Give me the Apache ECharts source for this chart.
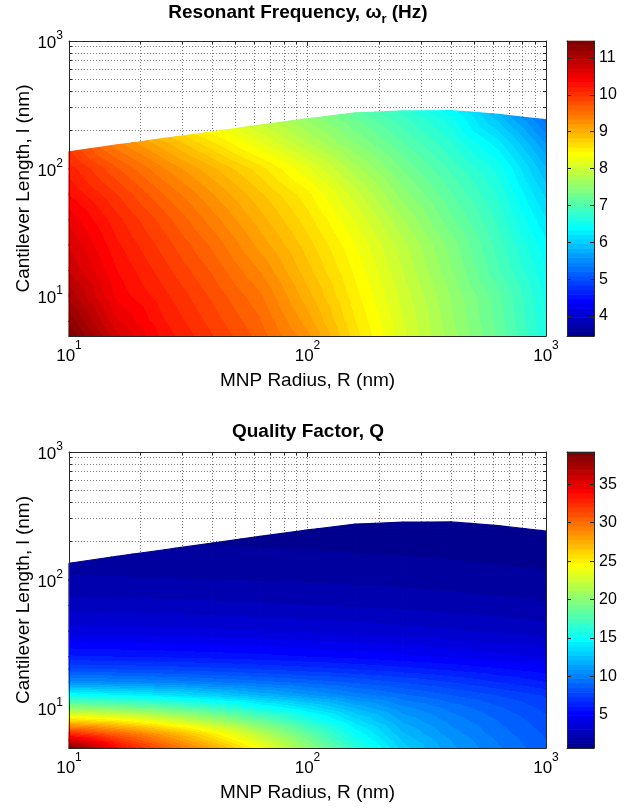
<!DOCTYPE html>
<html><head><meta charset="utf-8">
<script src="https://cdn.jsdelivr.net/npm/echarts@6/dist/echarts.min.js"></script>
<style>html,body{margin:0;padding:0;background:#fff}#c{width:639px;height:808px}</style>
</head><body><div id="c"></div>
<script>
// ---------------- data ----------------
const radiusNodes = [10, 15.85, 25.12, 39.81, 63.1, 100, 158.5, 251.2, 398.1, 631, 1000];
// upper edge of the computed region (cantilever length, nm) at each radius node
const boundaryLength = [135, 153, 172, 194, 219, 246, 273, 283, 284, 266, 241];

const lengthNodesFreq = [4.85, 6.31, 10, 15.85, 25.12, 39.81, 63.1, 100, 158.5, 251.2, 316.2];
const freqValues = [
  [11.46, 10.75, 10.28, 9.97, 9.66, 9.25, 8.64, 8.13, 7.65, 7.19, 6.6],
  [11.3, 10.61, 10.22, 9.91, 9.6, 9.15, 8.59, 8.1, 7.62, 7.16, 6.59],
  [11.05, 10.43, 10.12, 9.81, 9.49, 9.01, 8.51, 8.04, 7.58, 7.13, 6.55],
  [10.83, 10.34, 10.01, 9.69, 9.33, 8.88, 8.43, 7.96, 7.49, 6.98, 6.47],
  [10.7, 10.24, 9.9, 9.56, 9.17, 8.77, 8.34, 7.88, 7.41, 6.9, 6.38],
  [10.55, 10.13, 9.77, 9.4, 9.02, 8.64, 8.2, 7.72, 7.25, 6.8, 6.22],
  [10.33, 9.96, 9.58, 9.22, 8.86, 8.5, 8.02, 7.52, 7.1, 6.68, 6.05],
  [10.15, 9.73, 9.34, 8.99, 8.64, 8.23, 7.76, 7.32, 6.93, 6.54, 5.85],
  [9.9, 9.37, 8.99, 8.61, 8.23, 7.84, 7.46, 7.09, 6.72, 6.26, 5.58],
  [9.45, 8.95, 8.5, 8.17, 7.86, 7.54, 7.2, 6.86, 6.51, 5.9, 5.25],
  [9.3, 8.75, 8.3, 8.0, 7.7, 7.4, 7.05, 6.7, 6.3, 5.7, 5.1]
];

const lengthNodesQ = [4.85, 5.62, 6.31, 7.94, 10, 12.59, 15.85, 19.95, 25.12, 39.81, 63.1, 100, 158.5, 251.2, 316.2];
const qValues = [
  [39.0, 34.0, 30.8, 27.8, 24.2, 20.3, 16.4, 13.0, 11.1, 9.8, 8.6],
  [35.6, 32.2, 29.2, 26.2, 22.9, 19.3, 15.6, 12.6, 10.9, 9.6, 8.5],
  [32.5, 30.3, 27.8, 25.0, 21.8, 18.4, 15.0, 12.2, 10.6, 9.4, 8.4],
  [26.0, 25.0, 23.3, 21.2, 18.8, 16.2, 13.6, 11.4, 10.1, 9.1, 8.1],
  [20.3, 19.6, 18.6, 17.2, 15.4, 13.8, 12.0, 10.5, 9.5, 8.6, 7.7],
  [15.1, 14.6, 13.9, 13.0, 12.0, 11.0, 10.0, 9.2, 8.5, 7.85, 7.2],
  [10.6, 10.4, 10.1, 9.75, 9.35, 8.9, 8.4, 7.85, 7.3, 6.7, 6.1],
  [8.0, 7.9, 7.75, 7.55, 7.3, 7.0, 6.7, 6.35, 6.0, 5.6, 5.2],
  [6.2, 6.1, 6.0, 5.85, 5.7, 5.5, 5.3, 5.05, 4.8, 4.5, 4.2],
  [4.0, 3.95, 3.9, 3.82, 3.72, 3.6, 3.48, 3.33, 3.17, 3.0, 2.8],
  [2.75, 2.72, 2.68, 2.63, 2.57, 2.5, 2.42, 2.33, 2.22, 2.1, 1.95],
  [1.98, 1.96, 1.93, 1.9, 1.86, 1.81, 1.76, 1.7, 1.62, 1.52, 1.42],
  [1.45, 1.44, 1.42, 1.4, 1.37, 1.34, 1.3, 1.26, 1.2, 1.12, 1.05],
  [1.1, 1.09, 1.08, 1.06, 1.04, 1.01, 0.98, 0.95, 0.9, 0.84, 0.78],
  [0.98, 0.97, 0.96, 0.94, 0.92, 0.9, 0.87, 0.84, 0.8, 0.75, 0.7]
];

const freqLimits = [3.46, 11.46];
const qLimits = [0.68, 39.2];
const freqTicks = [4, 5, 6, 7, 8, 9, 10, 11];
const qTicks = [5, 10, 15, 20, 25, 30, 35];
const radiusGridTicks = [10, 20, 30, 40, 50, 60, 70, 80, 90, 100, 200, 300, 400, 500, 600, 700, 800, 900, 1000];
const lengthGridTicks = [5, 6, 7, 8, 9, 10, 20, 30, 40, 50, 60, 70, 80, 90, 100, 200, 300, 400, 500, 600, 700, 800, 900, 1000];

// ---------------- styling helpers ----------------
const FONT = '"Liberation Sans", Arial, Helvetica, sans-serif';
const AXIS_COLOR = '#262626';

function jetColormap(m) {
  const n = Math.ceil(m / 4);
  const u = [];
  for (let i = 1; i <= n; i++) u.push(i / n);
  for (let i = 0; i < n - 1; i++) u.push(1);
  for (let i = n; i >= 1; i--) u.push(i / n);
  const r = new Array(m).fill(0), g = new Array(m).fill(0), b = new Array(m).fill(0);
  const off = Math.ceil(n / 2) - (m % 4 === 1 ? 1 : 0);
  for (let k = 1; k <= u.length; k++) {
    const gi = off + k, ri = gi + n, bi = gi - n;
    if (gi >= 1 && gi <= m) g[gi - 1] = u[k - 1];
    if (ri >= 1 && ri <= m) r[ri - 1] = u[k - 1];
    if (bi >= 1 && bi <= m) b[bi - 1] = u[k - 1];
  }
  const out = [];
  for (let i = 0; i < m; i++) out.push('rgb(' + Math.round(r[i] * 255) + ',' + Math.round(g[i] * 255) + ',' + Math.round(b[i] * 255) + ')');
  return out;
}
const JET = jetColormap(64);
const NB = JET.length;

function binOf(v, lim) {
  let k = Math.floor((v - lim[0]) / (lim[1] - lim[0]) * NB);
  return Math.max(0, Math.min(NB - 1, k));
}
function bandStops(vA, vB, lim) {
  const span = lim[1] - lim[0];
  const kA = binOf(vA, lim), kB = binOf(vB, lim);
  const stops = [{ offset: 0, color: JET[kA] }];
  for (let k = kA + 1; k <= kB; k++) {
    const L = lim[0] + k * span / NB;
    const o = Math.max(0, Math.min(1, (L - vA) / (vB - vA)));
    stops.push({ offset: o, color: JET[k - 1] }, { offset: o, color: JET[k] });
  }
  stops.push({ offset: 1, color: JET[kB] });
  return stops;
}
function clipPoly(pts, f) {
  const out = [];
  for (let k = 0; k < pts.length; k++) {
    const a = pts[k], b = pts[(k + 1) % pts.length];
    const fa = f(a), fb = f(b);
    if (fa >= 0) out.push(a);
    if ((fa >= 0) !== (fb >= 0)) {
      const t = fa / (fa - fb);
      out.push([a[0] + t * (b[0] - a[0]), a[1] + t * (b[1] - a[1])]);
    }
  }
  return out;
}
function triangleEl(tri, f, lim) {
  const P0 = tri[0][0], P1 = tri[1][0], P2 = tri[2][0];
  const v0 = tri[0][1], v1 = tri[1][1], v2 = tri[2][1];
  const e1x = P1[0] - P0[0], e1y = P1[1] - P0[1], e2x = P2[0] - P0[0], e2y = P2[1] - P0[1];
  const det = e1x * e2y - e1y * e2x;
  if (Math.abs(det) < 1e-9) return null;
  const d1 = v1 - v0, d2 = v2 - v0;
  const gx = (d1 * e2y - d2 * e1y) / det, gy = (e1x * d2 - e2x * d1) / det;
  const poly = clipPoly([P0, P1, P2], f);
  if (poly.length < 3) return null;
  const m = Math.hypot(gx, gy);
  let fill;
  if (m < 1e-12) {
    fill = JET[binOf(v0, lim)];
  } else {
    const ux = gx / m, uy = gy / m;
    let tmin = Infinity, tmax = -Infinity;
    poly.forEach(p => { const t = (p[0] - P0[0]) * ux + (p[1] - P0[1]) * uy; tmin = Math.min(tmin, t); tmax = Math.max(tmax, t); });
    tmin -= 2; tmax += 2;
    const A = [P0[0] + ux * tmin, P0[1] + uy * tmin], B = [P0[0] + ux * tmax, P0[1] + uy * tmax];
    const vA = v0 + m * tmin, vB = v0 + m * tmax;
    fill = new echarts.graphic.LinearGradient(A[0], A[1], B[0], B[1], bandStops(vA, vB, lim), true);
  }
  return { type: 'polygon', shape: { points: poly }, style: { fill: fill, stroke: fill, lineWidth: 1.2, lineJoin: 'round' } };
}
function makeFieldRender(values, lengths, lim) {
  return function (params, api) {
    const i = api.value(2), j = api.value(3);
    const x0 = radiusNodes[i], x1 = radiusNodes[i + 1], y0 = lengths[j], y1 = lengths[j + 1];
    const p00 = api.coord([x0, y0]), p10 = api.coord([x1, y0]), p01 = api.coord([x0, y1]), p11 = api.coord([x1, y1]);
    const v00 = values[j][i], v10 = values[j][i + 1], v01 = values[j + 1][i], v11 = values[j + 1][i + 1];
    const b0 = api.coord([x0, boundaryLength[i]]), b1 = api.coord([x1, boundaryLength[i + 1]]);
    const f = p => p[1] - (b0[1] + (p[0] - b0[0]) * (b1[1] - b0[1]) / (b1[0] - b0[0]));
    const children = [];
    const t1 = triangleEl([[p00, v00], [p10, v10], [p11, v11]], f, lim);
    const t2 = triangleEl([[p00, v00], [p11, v11], [p01, v01]], f, lim);
    if (t1) children.push(t1);
    if (t2) children.push(t2);
    return { type: 'group', children: children };
  };
}
function cellData(lengths) {
  const d = [];
  for (let j = 0; j < lengths.length - 1; j++)
    for (let i = 0; i < radiusNodes.length - 1; i++) d.push([radiusNodes[i], lengths[j], i, j]);
  return d;
}
const gridData = radiusGridTicks.map(v => [v, 100, 0]).concat(lengthGridTicks.map(v => [100, v, 1]));
function isMajor(v) { const l = Math.log10(v); return Math.abs(l - Math.round(l)) < 1e-9; }
function gridRender(params, api) {
  const cs = params.coordSys;
  const flag = api.value(2);
  const children = [];
  const dotted = { stroke: '#808080', lineWidth: 1, lineDash: [1, 2] };
  const tick = { stroke: AXIS_COLOR, lineWidth: 1 };
  if (flag === 0) {
    const v = api.value(0);
    const len = isMajor(v) ? 5 : 3;
    const x = Math.floor(api.coord([v, 100])[0]) + 0.5;
    const top = cs.y, bot = cs.y + cs.height;
    if (x > cs.x + 1.5 && x < cs.x + cs.width - 1.5) {
      children.push({ type: 'line', shape: { x1: x, y1: top, x2: x, y2: bot }, style: dotted });
      children.push({ type: 'line', shape: { x1: x, y1: bot, x2: x, y2: bot - len }, style: tick });
      children.push({ type: 'line', shape: { x1: x, y1: top, x2: x, y2: top + len }, style: tick });
    }
  } else {
    const v = api.value(1);
    const len = isMajor(v) ? 5 : 3;
    const y = Math.floor(api.coord([100, v])[1]) + 0.5;
    const l = cs.x, r = cs.x + cs.width;
    if (y > cs.y + 1.5 && y < cs.y + cs.height - 1.5) {
      children.push({ type: 'line', shape: { x1: l, y1: y, x2: r, y2: y }, style: dotted });
      children.push({ type: 'line', shape: { x1: l, y1: y, x2: l + len, y2: y }, style: tick });
      children.push({ type: 'line', shape: { x1: r, y1: y, x2: r - len, y2: y }, style: tick });
    }
  }
  return { type: 'group', children: children };
}
function makeBarRender(lim) {
  const span = lim[1] - lim[0];
  return function (params, api) {
    const k = api.value(2);
    const lo = lim[0] + k * span / NB, hi = lo + span / NB;
    const p0 = api.coord([0, lo]), p1 = api.coord([1, hi]);
    return { type: 'rect', shape: { x: p0[0], y: p1[1] - 0.3, width: p1[0] - p0[0], height: p0[1] - p1[1] + 0.6 }, style: { fill: JET[k] } };
  };
}
function barData(lim) {
  const span = lim[1] - lim[0], d = [];
  for (let k = 0; k < NB; k++) d.push([0.5, lim[0] + (k + 0.5) * span / NB, k]);
  return d;
}
function powLabel(v) {
  const l = Math.log10(v), e = Math.round(l);
  if (Math.abs(l - e) > 1e-6) return '';
  return '{b|10}{s|' + e + '}';
}
const powRichX = {
  b: { fontSize: 17, fontFamily: FONT, color: '#000', padding: [8, 0, 0, 0] },
  s: { fontSize: 12, fontFamily: FONT, color: '#000', verticalAlign: 'top' }
};
const powRichY = {
  b: { fontSize: 17, fontFamily: FONT, color: '#000', padding: [5, 0, 0, 0] },
  s: { fontSize: 12, fontFamily: FONT, color: '#000', verticalAlign: 'top' }
};

// ---------------- axes ----------------
const grid = [
  { left: 69, top: 41, width: 477, height: 295 },
  { left: 69, top: 452, width: 477, height: 296 },
  { left: 567, top: 41, width: 27, height: 295 },
  { left: 567, top: 452, width: 27, height: 296 }
];
const lineStyle = { color: AXIS_COLOR, width: 1 };
const xAxis = [], yAxis = [];
[0, 1].forEach(g => {
  xAxis.push({
    gridIndex: g, type: 'log', logBase: 10, min: 10, max: 1000, position: 'bottom', z: 3,
    axisLine: { show: true, onZero: false, lineStyle }, axisTick: { show: false }, splitLine: { show: false },
    axisLabel: { formatter: powLabel, rich: powRichX, margin: 4, showMinLabel: true, showMaxLabel: true },
    name: 'MNP Radius, R (nm)', nameLocation: 'middle', nameGap: 35, nameMoveOverlap: false,
    nameTextStyle: { fontSize: 19, fontFamily: FONT, color: '#000' }
  });
  xAxis.push({
    gridIndex: g, type: 'log', logBase: 10, min: 10, max: 1000, position: 'top', z: 3,
    axisLine: { show: true, onZero: false, lineStyle }, axisTick: { show: false }, splitLine: { show: false }, axisLabel: { show: false }
  });
  yAxis.push({
    gridIndex: g, type: 'log', logBase: 10, min: 4.85, max: 1000, position: 'left', z: 3,
    axisLine: { show: true, onZero: false, lineStyle }, axisTick: { show: false }, splitLine: { show: false },
    axisLabel: { formatter: powLabel, rich: powRichY, margin: 6, showMinLabel: true, showMaxLabel: true },
    name: 'Cantilever Length, l (nm)', nameLocation: 'middle', nameGap: 36, nameMoveOverlap: false,
    nameTextStyle: { fontSize: 19, fontFamily: FONT, color: '#000' }
  });
  yAxis.push({
    gridIndex: g, type: 'log', logBase: 10, min: 4.85, max: 1000, position: 'right', z: 3,
    axisLine: { show: true, onZero: false, lineStyle }, axisTick: { show: false }, splitLine: { show: false }, axisLabel: { show: false }
  });
});
[[2, freqLimits, freqTicks], [3, qLimits, qTicks]].forEach(([g, lim, ticks]) => {
  ['bottom', 'top'].forEach(pos => xAxis.push({
    gridIndex: g, type: 'value', min: 0, max: 1, position: pos, z: 3,
    axisLine: { show: true, onZero: false, lineStyle }, axisTick: { show: false }, splitLine: { show: false }, axisLabel: { show: false }
  }));
  yAxis.push({
    gridIndex: g, type: 'value', min: lim[0], max: lim[1], position: 'left', z: 3,
    axisLine: { show: true, onZero: false, lineStyle }, splitLine: { show: false },
    axisTick: { show: true, inside: true, length: 4, customValues: ticks, lineStyle }, axisLabel: { show: false }
  });
  yAxis.push({
    gridIndex: g, type: 'value', min: lim[0], max: lim[1], position: 'right', z: 3,
    axisLine: { show: true, onZero: false, lineStyle }, splitLine: { show: false },
    axisTick: { show: true, inside: true, length: 4, customValues: ticks, lineStyle },
    axisLabel: { show: true, customValues: ticks, margin: 5, fontSize: 16, fontFamily: FONT, color: '#000' }
  });
});

const series = [
  { type: 'custom', xAxisIndex: 0, yAxisIndex: 0, z: 1, silent: true, data: gridData, renderItem: gridRender },
  { type: 'custom', xAxisIndex: 0, yAxisIndex: 0, z: 2, silent: true, data: cellData(lengthNodesFreq), renderItem: makeFieldRender(freqValues, lengthNodesFreq, freqLimits) },
  { type: 'custom', xAxisIndex: 2, yAxisIndex: 2, z: 1, silent: true, data: gridData, renderItem: gridRender },
  { type: 'custom', xAxisIndex: 2, yAxisIndex: 2, z: 2, silent: true, data: cellData(lengthNodesQ), renderItem: makeFieldRender(qValues, lengthNodesQ, qLimits) },
  { type: 'custom', xAxisIndex: 4, yAxisIndex: 4, z: 2, silent: true, data: barData(freqLimits), renderItem: makeBarRender(freqLimits) },
  { type: 'custom', xAxisIndex: 6, yAxisIndex: 6, z: 2, silent: true, data: barData(qLimits), renderItem: makeBarRender(qLimits) }
];

const titleRich = {
  t: { fontSize: 19, fontWeight: 'bold', fontFamily: FONT, fill: '#000' },
  sub: { fontSize: 13, fontWeight: 'bold', fontFamily: FONT, fill: '#000', verticalAlign: 'bottom', padding: [12, 0, 0, 0] }
};
const graphic = [
  { type: 'text', x: 298, y: 13, z: 10, style: { text: '{t|Resonant Frequency, ω}{sub|r}{t| (Hz)}', rich: titleRich, align: 'center', verticalAlign: 'middle' } },
  { type: 'text', x: 308, y: 432, z: 10, style: { text: '{t|Quality Factor, Q}', rich: titleRich, align: 'center', verticalAlign: 'middle' } }
];

const chart = echarts.init(document.getElementById('c'), null, { renderer: 'canvas' });
chart.setOption({ animation: false, backgroundColor: '#fff', grid, xAxis, yAxis, series, graphic });
</script></body></html>
